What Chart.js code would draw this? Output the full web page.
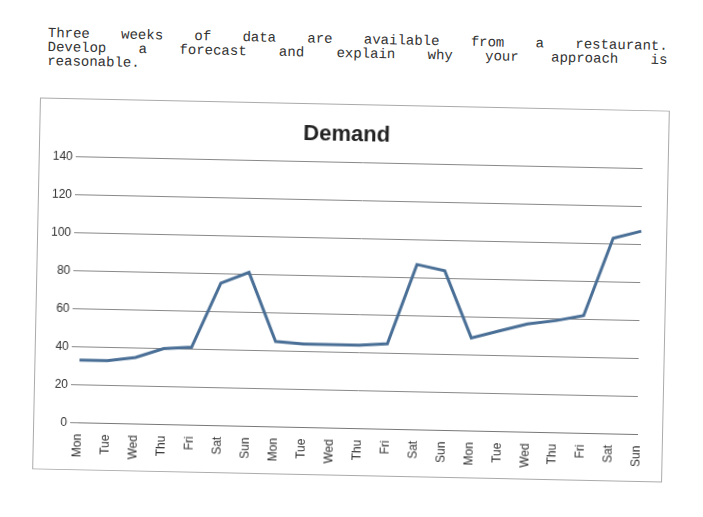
<!DOCTYPE html>
<html>
<head>
<script src="https://cdn.jsdelivr.net/npm/chart.js@4"></script>
<style>
body{margin:0;background:#fff;width:703px;height:517px;overflow:hidden;}
#txt{position:absolute;left:48px;top:26px;width:620px;font-family:"Liberation Mono",monospace;font-size:14px;line-height:14px;color:#333;transform:rotate(1.2deg);transform-origin:0 0;}
#txt div{text-align:justify;text-align-last:justify;}
#txt div.last{text-align-last:left;}
#box{position:absolute;left:36px;top:104px;width:628px;height:370px;border:1px solid #aaa;transform:rotate(1.2deg);}
</style>
</head>
<body>
<div id="txt"><div>Three weeks of data are available from a restaurant.</div><div>Develop a forecast and explain why your approach is</div><div class="last">reasonable.</div></div>
<div id="box"><canvas id="lineChart" width="628" height="370"></canvas></div>
<script>
var days = ['Mon','Tue','Wed','Thu','Fri','Sat','Sun','Mon','Tue','Wed','Thu','Fri','Sat','Sun','Mon','Tue','Wed','Thu','Fri','Sat','Sun'];
var demand = [33,33,35,40,41,75,81,45,44,44,44,45,87,84,49,53,57,59,62,103,107];
var yTicks = [0,20,40,60,80,100,120,140];

var ctx = document.getElementById('lineChart').getContext('2d');
var myChart = new Chart(ctx, {
    type: 'line',
    data: {
        labels: days,
        datasets: [{
            label: 'Demand',
            data: demand,
            borderColor: '#4a6f96',
            borderWidth: 3,
            pointRadius: 0,
            tension: 0
        }]
    },
    options: {
        responsive: false,
        animation: false,
        layout: {padding: {left: 10, right: 25, top: 5, bottom: 8}},
        plugins: {
            legend: {display: false},
            title: {display: true, text: 'Demand', color: '#222', font: {family: 'Liberation Sans', size: 22, weight: 'bold'}, padding: {top: 12, bottom: 14}}
        },
        scales: {
            x: {
                grid: {display: false},
                border: {color: '#777'},
                ticks: {color: '#333', maxRotation: 90, minRotation: 90, font: {family: 'Liberation Sans', size: 12}}
            },
            y: {
                min: 0, max: 140,
                afterBuildTicks: function (axis) { axis.ticks = yTicks.map(function (v) { return {value: v}; }); },
                grid: {color: '#888'},
                border: {display: false},
                ticks: {color: '#333', font: {family: 'Liberation Sans', size: 12}}
            }
        }
    }
});
</script>
</body>
</html>
